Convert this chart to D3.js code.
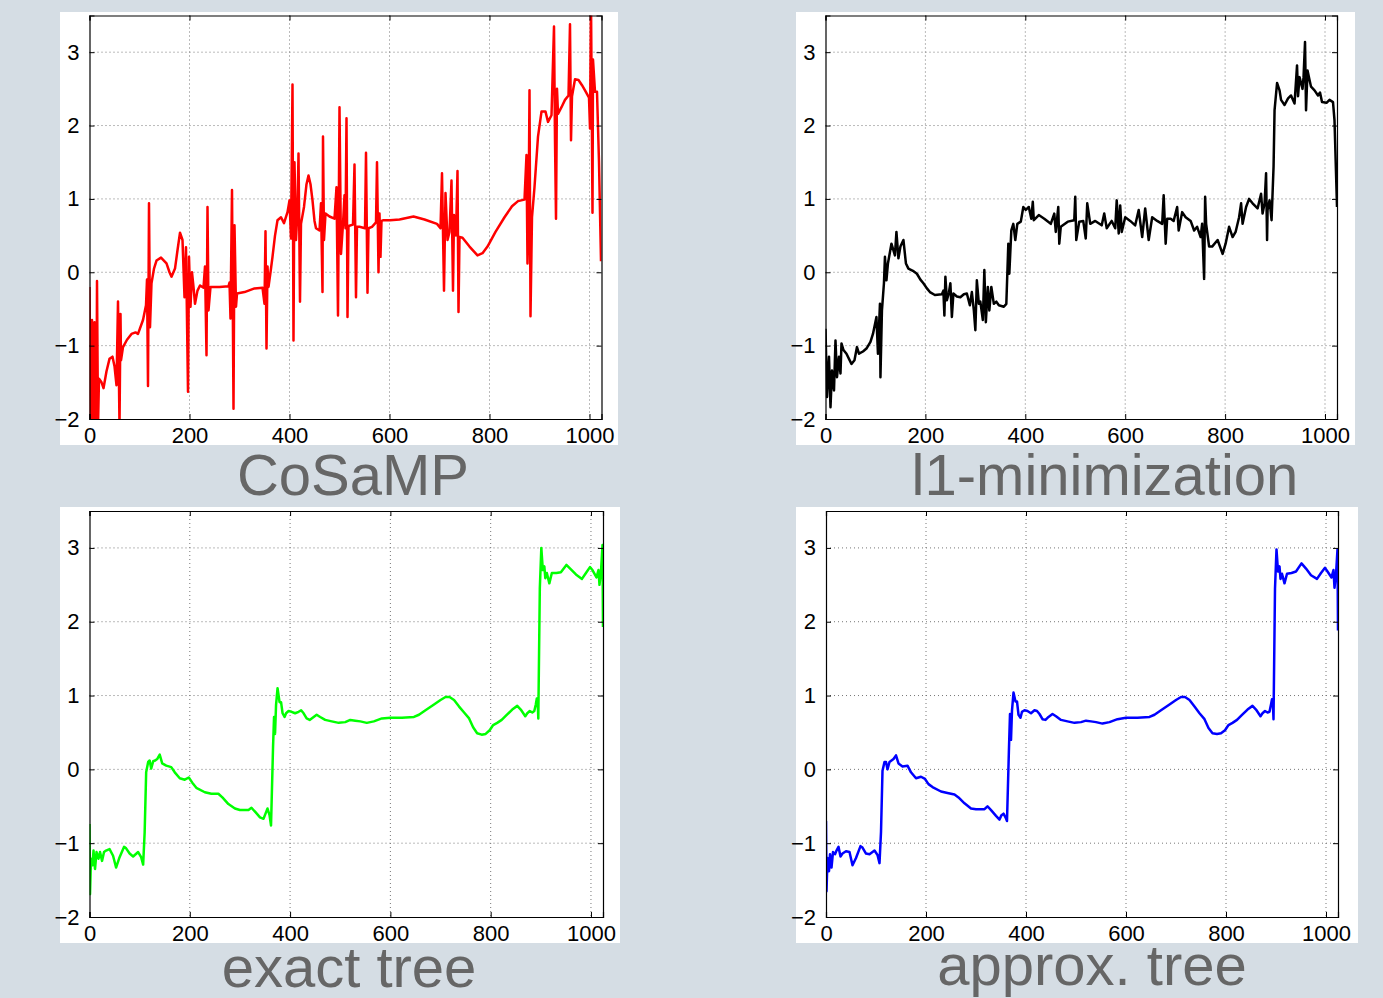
<!DOCTYPE html>
<html>
<head>
<meta charset="utf-8">
<script src="https://cdn.jsdelivr.net/npm/d3@7"></script>
<style>
    body { margin: 0; background: #d5dde4; }
    svg { display: block; font-family: "Liberation Sans", Arial, Helvetica, sans-serif; }
</style>
</head>
<body>
<svg id="chart" width="1383" height="998"></svg>
<script>
// ---- data ----
let xTicks = [0, 200, 400, 600, 800, 1000];
let yTicks = [-2, -1, 0, 1, 2, 3];
let xDomain = [0, 1024];
let yDomain = [-2, 3.5];
let titles = ["CoSaMP", "l1-minimization", "exact tree", "approx. tree"];
let colors = ["#ff0000", "#000000", "#00ff00", "#0000ff"];

// CoSaMP recovery [index, value]
let cosamp = [
    [0,-0.2],[2,-2.1],[5,-0.65],[7,-2.1],[10,-0.68],[12,-2.1],[14,-1.9],[15,-0.12],[17,-2.1],[19,-1.45],
    [24,-1.5],[28,-1.58],[34,-1.35],[40,-1.18],[46,-1.15],[50,-1.28],[54,-1.54],[57,-0.4],[60,-2.1],[62,-0.57],
    [63,-1.2],[67,-1.02],[75,-0.92],[84,-0.84],[92,-0.82],[97,-0.84],[107,-0.65],[113,-0.45],[115,-0.1],[117,-1.55],
    [119,0.94],[121,-0.75],[124,-0.15],[129,0.05],[134,0.16],[143,0.2],[154,0.12],[160,0.0],[164,-0.06],[171,0.05],
    [176,0.3],[181,0.54],[186,0.44],[190,-0.34],[193,0.34],[197,-1.63],[199,0.21],[202,-0.47],[205,0.0],[208,-0.2],
    [211,-0.43],[216,-0.25],[221,-0.18],[228,-0.21],[231,0.08],[234,-1.13],[236,0.89],[238,-0.52],[242,-0.2],[260,-0.2],
    [278,-0.19],[280,-0.14],[282,-0.63],[285,1.12],[288,-1.86],[290,0.64],[293,-0.47],[295,-0.29],[310,-0.27],[330,-0.22],
    [346,-0.21],[350,-0.43],[352,0.56],[354,-1.04],[356,0.08],[358,-0.2],[362,0.0],[366,0.21],[371,0.5],[376,0.71],
    [383,0.75],[389,0.67],[396,0.82],[400,0.98],[403,0.46],[406,2.56],[408,-0.93],[410,1.5],[413,0.44],[416,0.85],
    [418,1.62],[421,-0.4],[423,0.66],[429,0.89],[434,1.2],[438,1.32],[442,1.2],[446,0.98],[450,0.7],[453,0.6],
    [460,0.57],[463,0.94],[466,-0.27],[467,1.85],[469,0.44],[472,0.8],[480,0.76],[490,0.73],[494,1.16],[497,-0.59],
    [500,2.25],[503,0.25],[507,0.66],[510,1.05],[512,0.6],[514,2.1],[516,-0.61],[518,0.63],[527,0.65],[530,1.47],
    [533,-0.34],[535,0.62],[540,0.62],[551,0.6],[553,1.63],[556,-0.28],[558,0.6],[565,0.62],[573,0.68],[575,1.5],
    [578,0.0],[580,0.8],[582,0.21],[584,0.7],[588,0.71],[601,0.71],[620,0.72],[648,0.76],[670,0.72],[695,0.66],
    [702,0.6],[705,1.35],[709,-0.25],[712,1.08],[716,0.44],[720,0.55],[724,1.25],[727,-0.25],[729,0.78],[733,0.5],
    [736,1.38],[738,-0.54],[740,0.48],[746,0.47],[760,0.35],[776,0.23],[786,0.26],[796,0.35],[812,0.55],[830,0.75],
    [845,0.9],[857,0.97],[870,0.99],[874,1.6],[876,0.12],[878,0.7],[880,2.48],[882,-0.6],[885,0.75],[890,1.16],
    [897,1.85],[904,2.19],[912,2.19],[917,2.05],[924,2.14],[929,3.35],[931,1.8],[933,0.73],[935,2.5],[937,2.16],
    [944,2.25],[951,2.35],[958,2.41],[961,3.38],[963,1.8],[965,2.4],[971,2.63],[978,2.62],[985,2.55],[991,2.48],
    [999,2.38],[1001,1.96],[1003,3.7],[1006,0.81],[1007,2.9],[1011,2.46],[1015,2.46],[1019,1.5],[1023,0.15]
];

// l1-minimization recovery
let l1min = [
    [0,-0.77],[3,-1.7],[7,-1.15],[10,-1.84],[13,-1.34],[17,-1.61],[20,-0.93],[23,-1.43],[27,-1.15],[30,-1.38],
    [32,-0.97],[36,-1.06],[42,-1.11],[47,-1.18],[52,-1.25],[58,-1.2],[63,-1.02],[67,-1.11],[75,-1.08],[82,-1.04],
    [90,-0.95],[95,-0.84],[102,-0.61],[105,-1.11],[109,-0.43],[110,-1.43],[113,-0.52],[117,-0.15],[119,0.21],[122,-0.11],
    [125,0.12],[132,0.39],[139,0.23],[142,0.55],[146,0.19],[150,0.35],[156,0.44],[161,0.12],[166,0.05],[175,0.02],
    [183,-0.02],[190,-0.1],[196,-0.15],[203,-0.22],[209,-0.27],[219,-0.31],[233,-0.3],[236,-0.25],[238,-0.59],[240,-0.06],
    [243,-0.38],[247,-0.28],[250,-0.15],[253,-0.61],[256,-0.29],[263,-0.33],[270,-0.34],[277,-0.3],[283,-0.29],[289,-0.45],
    [293,-0.27],[297,-0.52],[300,-0.79],[303,-0.11],[307,-0.43],[310,-0.4],[315,-0.65],[318,0.03],[321,-0.68],[325,-0.2],
    [328,-0.52],[332,-0.2],[337,-0.43],[342,-0.4],[347,-0.45],[357,-0.47],[362,-0.43],[366,0.39],[368,-0.02],[372,0.57],
    [376,0.66],[380,0.44],[384,0.66],[391,0.69],[396,0.89],[401,0.85],[407,0.89],[412,0.73],[415,0.96],[417,0.71],
    [427,0.78],[438,0.73],[451,0.66],[458,0.8],[461,0.55],[466,0.89],[468,0.39],[471,0.62],[485,0.69],[498,0.71],
    [500,1.03],[502,0.44],[508,0.69],[516,0.7],[521,0.46],[524,0.94],[530,0.66],[540,0.7],[553,0.64],[558,0.8],
    [563,0.6],[573,0.7],[580,0.6],[583,0.98],[587,0.53],[590,0.91],[593,0.55],[600,0.75],[610,0.7],[620,0.64],
    [627,0.85],[634,0.48],[640,0.87],[647,0.44],[654,0.75],[664,0.7],[674,0.66],[677,1.05],[681,0.39],[684,0.73],
    [691,0.73],[697,0.7],[704,0.89],[707,0.57],[714,0.82],[721,0.75],[731,0.7],[738,0.57],[744,0.62],[751,0.48],
    [754,0.66],[758,-0.09],[760,1.03],[762,0.66],[768,0.35],[774,0.35],[785,0.44],[795,0.25],[801,0.39],[808,0.62],
    [815,0.48],[821,0.55],[828,0.75],[832,0.94],[835,0.66],[842,0.89],[848,1.0],[855,0.94],[865,0.87],[872,1.07],
    [875,0.8],[879,0.94],[882,1.35],[884,0.44],[885,0.85],[889,0.98],[893,0.71],[897,1.44],[899,2.21],[904,2.58],
    [909,2.48],[912,2.35],[919,2.28],[926,2.37],[932,2.41],[939,2.3],[944,2.82],[946,2.4],[949,2.66],[955,2.5],
    [957,2.66],[960,3.14],[962,2.21],[965,2.75],[969,2.62],[972,2.53],[979,2.48],[986,2.41],[990,2.45],[994,2.32],
    [1003,2.31],[1009,2.35],[1016,2.32],[1019,2.07],[1024,0.89]
];

// exact tree recovery
let exactTree = [
    [0,-0.74],[1,-1.69],[3,-1.21],[6,-1.3],[8,-1.1],[11,-1.35],[14,-1.12],[18,-1.21],[21,-1.12],[25,-1.24],
    [29,-1.12],[33,-1.1],[40,-1.08],[47,-1.17],[53,-1.33],[60,-1.19],[69,-1.05],[73,-1.07],[80,-1.14],[87,-1.18],
    [97,-1.12],[103,-1.19],[107,-1.29],[110,-0.85],[113,-0.04],[117,0.1],[120,0.12],[123,0.01],[127,0.11],[131,0.12],
    [135,0.14],[140,0.2],[145,0.08],[153,0.05],[163,0.03],[170,-0.04],[180,-0.12],[190,-0.14],[198,-0.11],[205,-0.18],
    [213,-0.25],[230,-0.31],[243,-0.33],[257,-0.33],[265,-0.38],[277,-0.47],[290,-0.53],[300,-0.55],[317,-0.55],[323,-0.52],
    [331,-0.58],[340,-0.65],[347,-0.67],[351,-0.6],[355,-0.53],[359,-0.62],[362,-0.76],[366,0.3],[368,0.71],[370,0.48],
    [372,0.87],[375,1.1],[379,0.91],[382,0.91],[385,0.76],[389,0.71],[392,0.76],[397,0.79],[403,0.78],[410,0.76],
    [417,0.78],[422,0.8],[427,0.76],[433,0.69],[439,0.67],[445,0.7],[453,0.74],[460,0.71],[470,0.67],[483,0.65],
    [497,0.63],[510,0.64],[520,0.67],[530,0.66],[540,0.65],[553,0.63],[567,0.65],[583,0.69],[600,0.7],[623,0.7],
    [647,0.71],[657,0.74],[670,0.8],[687,0.88],[700,0.94],[710,0.98],[718,0.98],[727,0.94],[737,0.85],[747,0.77],
    [757,0.69],[765,0.57],[773,0.49],[782,0.47],[790,0.48],[798,0.53],[805,0.6],[813,0.63],[822,0.67],[831,0.73],
    [843,0.81],[853,0.86],[860,0.81],[869,0.72],[873,0.76],[878,0.79],[883,0.77],[887,0.79],[890,0.88],[892,0.96],
    [894,0.87],[895,0.69],[898,2.45],[901,3.0],[904,2.7],[907,2.75],[909,2.59],[912,2.66],[917,2.52],[922,2.66],
    [931,2.66],[940,2.67],[951,2.77],[960,2.71],[970,2.64],[982,2.58],[990,2.66],[998,2.74],[1003,2.7],[1011,2.6],
    [1015,2.7],[1017,2.5],[1020,2.68],[1023,3.04],[1024,1.93]
];

// approximate tree recovery
let approxTree = [
    [0,-0.7],[1,-1.65],[3,-1.2],[6,-1.38],[8,-1.15],[11,-1.33],[14,-1.12],[18,-1.15],[21,-1.1],[25,-1.05],
    [29,-1.18],[33,-1.14],[40,-1.11],[47,-1.12],[53,-1.3],[60,-1.2],[69,-1.04],[73,-1.06],[80,-1.14],[87,-1.15],
    [97,-1.1],[103,-1.16],[107,-1.27],[110,-0.85],[113,-0.02],[117,0.1],[120,0.1],[123,0.0],[127,0.1],[131,0.12],
    [135,0.14],[140,0.19],[145,0.08],[153,0.04],[163,0.05],[170,-0.04],[180,-0.12],[190,-0.1],[198,-0.13],[205,-0.2],
    [213,-0.24],[230,-0.3],[243,-0.32],[257,-0.34],[265,-0.38],[277,-0.46],[290,-0.53],[300,-0.54],[317,-0.54],[323,-0.5],
    [331,-0.56],[340,-0.63],[347,-0.68],[351,-0.62],[355,-0.6],[359,-0.65],[362,-0.7],[366,0.3],[368,0.75],[370,0.4],
    [372,0.8],[375,1.04],[379,0.92],[382,0.92],[385,0.74],[389,0.7],[392,0.78],[397,0.8],[403,0.79],[410,0.76],
    [417,0.8],[422,0.79],[427,0.75],[433,0.68],[439,0.67],[445,0.71],[453,0.75],[460,0.72],[470,0.67],[483,0.65],
    [497,0.63],[510,0.64],[520,0.66],[530,0.65],[540,0.64],[553,0.62],[567,0.64],[583,0.68],[600,0.7],[623,0.7],
    [647,0.71],[657,0.74],[670,0.8],[687,0.88],[700,0.94],[710,0.98],[718,0.98],[727,0.94],[737,0.85],[747,0.76],
    [757,0.68],[765,0.56],[773,0.49],[782,0.48],[790,0.49],[798,0.53],[805,0.6],[813,0.63],[822,0.67],[831,0.73],
    [843,0.81],[853,0.86],[860,0.81],[869,0.72],[873,0.76],[878,0.79],[883,0.77],[887,0.78],[890,0.88],[892,0.95],
    [894,0.86],[895,0.68],[898,2.45],[901,2.98],[904,2.68],[907,2.75],[909,2.58],[912,2.65],[917,2.52],[922,2.65],
    [931,2.66],[940,2.68],[951,2.79],[960,2.72],[970,2.63],[982,2.58],[990,2.66],[998,2.73],[1003,2.68],[1011,2.6],
    [1015,2.7],[1017,2.46],[1020,2.64],[1023,2.98],[1024,1.88]
];

let seriesList = [cosamp, l1min, exactTree, approxTree];

// ---- layout of the four panels (pixels) ----
let panels = [
    { bg: [60, 12, 558, 433],   plot: [89.5, 15.5, 512, 403.5],   title: [353, 495] },
    { bg: [796, 12, 559, 433],  plot: [825.5, 15.5, 511.5, 403.5], title: [1105, 495] },
    { bg: [60, 507, 560, 436],  plot: [89.5, 511, 513.5, 406],    title: [349, 987] },
    { bg: [796, 507, 562, 436], plot: [826, 511, 512, 406],       title: [1092, 985] }
];

let svg = d3.select("#chart");
let fmt = d3.format("d");

panels.forEach(function (p, i) {
    let left = p.plot[0], top = p.plot[1], w = p.plot[2], h = p.plot[3];

    // white figure background
    svg.append("rect")
        .attr("x", p.bg[0]).attr("y", p.bg[1])
        .attr("width", p.bg[2]).attr("height", p.bg[3])
        .attr("fill", "#ffffff");

    let g = svg.append("g")
        .attr("transform", "translate(" + left + "," + top + ")");

    let x = d3.scaleLinear().domain(xDomain).range([0, w]);
    let y = d3.scaleLinear().domain(yDomain).range([h, 0]);

    // dotted grid
    g.append("g").selectAll("line").data(xTicks.filter(d => d > 0)).enter().append("line")
        .attr("x1", d => x(d)).attr("x2", d => x(d))
        .attr("y1", 0).attr("y2", h)
        .attr("stroke", "#777").attr("stroke-width", 1)
        .attr("stroke-dasharray", "1,3");
    g.append("g").selectAll("line").data(yTicks.filter(d => d > yDomain[0])).enter().append("line")
        .attr("x1", 0).attr("x2", w)
        .attr("y1", d => y(d)).attr("y2", d => y(d))
        .attr("stroke", "#777").attr("stroke-width", 1)
        .attr("stroke-dasharray", "1,3");

    // clip for the data line
    let clipId = "clip" + i;
    g.append("clipPath").attr("id", clipId)
        .append("rect").attr("width", w).attr("height", h);

    let line = d3.line()
        .x(d => x(d[0]))
        .y(d => y(d[1]));

    g.append("path")
        .datum(seriesList[i])
        .attr("clip-path", "url(#" + clipId + ")")
        .attr("fill", "none")
        .attr("stroke", colors[i])
        .attr("stroke-width", 2.5)
        .attr("stroke-linejoin", "round")
        .attr("d", line);

    // axes: bottom/left with labels, top/right ticks only (ticks point inward)
    let tickLen = 5;
    let xAxisB = d3.axisBottom(x).tickValues(xTicks).tickSize(-tickLen).tickPadding(tickLen + 3).tickFormat(fmt);
    let xAxisT = d3.axisTop(x).tickValues(xTicks).tickSize(-tickLen).tickFormat("");
    let yAxisL = d3.axisLeft(y).tickValues(yTicks).tickSize(-tickLen).tickPadding(tickLen + 5).tickFormat(fmt);
    let yAxisR = d3.axisRight(y).tickValues(yTicks).tickSize(-tickLen).tickFormat("");

    let gb = g.append("g").attr("transform", "translate(0," + h + ")").call(xAxisB);
    let gt = g.append("g").call(xAxisT);
    let gl = g.append("g").call(yAxisL);
    let gr = g.append("g").attr("transform", "translate(" + w + ",0)").call(yAxisR);

    [gb, gt, gl, gr].forEach(function (a) {
        a.select(".domain").attr("stroke", "#000").attr("stroke-width", 1.2);
        a.selectAll(".tick line").attr("stroke", "#000").attr("stroke-width", 1);
    });
    gb.selectAll("text")
        .attr("font-size", 22).attr("fill", "#000")
        .attr("font-family", "'Liberation Sans', Arial, sans-serif");
    gl.selectAll("text")
        .attr("font-size", 22).attr("fill", "#000")
        .attr("font-family", "'Liberation Sans', Arial, sans-serif");

    // panel caption below
    svg.append("text")
        .attr("x", p.title[0]).attr("y", p.title[1])
        .attr("text-anchor", "middle")
        .attr("font-size", 58)
        .attr("fill", "#666666")
        .text(titles[i]);
});
</script>
</body>
</html>
